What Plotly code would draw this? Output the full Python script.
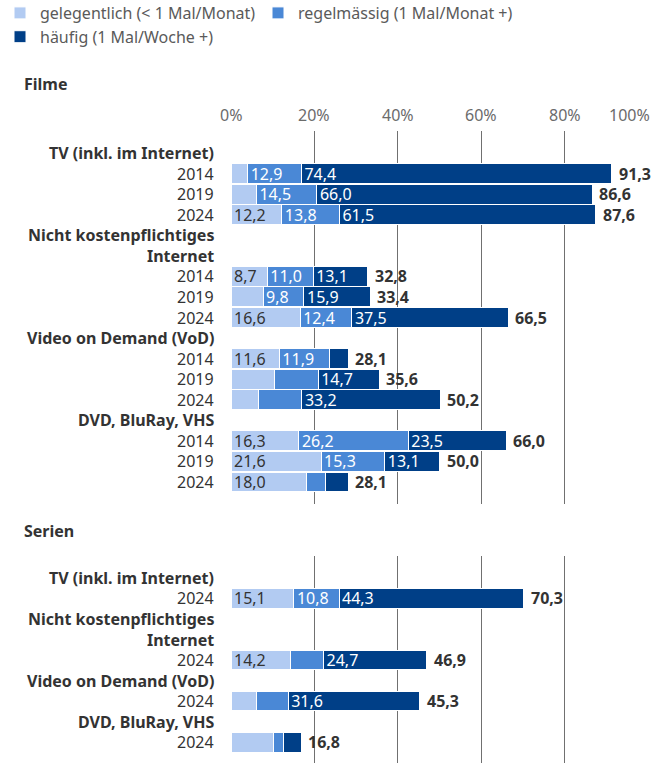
import plotly.graph_objects as go

# ---------------- data ----------------
series_names = ["gelegentlich (< 1 Mal/Monat)", "regelmässig (1 Mal/Monat +)", "häufig (1 Mal/Woche +)"]
colors = ["#b2cbf2", "#4a88d6", "#003f87"]
text_colors = ["#333333", "#ffffff", "#ffffff"]

# Filme: row labels (headers bold) and year rows
filme_rows = ["TV (inkl. im Internet)", "2014", "2019", "2024",
              "Nicht kostenpflichtiges", "Internet", "2014", "2019", "2024",
              "Video on Demand (VoD)", "2014", "2019", "2024",
              "DVD, BluRay, VHS", "2014", "2019", "2024"]
filme_header = [True, False, False, False, True, True, False, False, False,
                True, False, False, False, True, False, False, False]
filme_bar_rows = [1, 2, 3, 6, 7, 8, 10, 11, 12, 14, 15, 16]
filme_gelegentlich = [4.0, 6.1, 12.2, 8.7, 7.7, 16.6, 11.6, 10.5, 6.7, 16.3, 21.6, 18.0]
filme_regelmaessig = [12.9, 14.5, 13.8, 11.0, 9.8, 12.4, 11.9, 10.4, 10.3, 26.2, 15.3, 4.7]
filme_haeufig = [74.4, 66.0, 61.5, 13.1, 15.9, 37.5, 4.6, 14.7, 33.2, 23.5, 13.1, 5.4]
filme_total = [91.3, 86.6, 87.6, 32.8, 33.4, 66.5, 28.1, 35.6, 50.2, 66.0, 50.0, 28.1]
filme_show_g = [False, False, True, True, False, True, True, False, False, True, True, True]
filme_show_r = [True, True, True, True, True, True, True, False, False, True, True, False]
filme_show_h = [True, True, True, True, True, True, False, True, True, True, True, False]

# Serien
serien_rows = ["TV (inkl. im Internet)", "2024",
               "Nicht kostenpflichtiges", "Internet", "2024",
               "Video on Demand (VoD)", "2024",
               "DVD, BluRay, VHS", "2024"]
serien_header = [True, False, True, True, False, True, False, True, False]
serien_bar_rows = [1, 4, 6, 8]
serien_gelegentlich = [15.1, 14.2, 6.0, 10.1]
serien_regelmaessig = [10.8, 8.0, 7.7, 2.4]
serien_haeufig = [44.3, 24.7, 31.6, 4.3]
serien_total = [70.3, 46.9, 45.3, 16.8]
serien_show_g = [True, True, False, False]
serien_show_r = [True, False, False, False]
serien_show_h = [True, True, True, False]

tick_vals = [0, 20, 40, 60, 80, 100]
tick_text = ["0%", "20%", "40%", "60%", "80%", "100%"]

# ---------------- layout geometry ----------------
W, H = 656, 763
FONT = "Noto Sans"
FS = 16
x_dom = [231 / W, 648 / W]
filme_dom = [(H - 504) / H, (H - 131) / H]
serien_dom = [0, (H - 556) / H]


def fmt(v):
    return f"{v:.1f}".replace(".", ",")


fig = go.Figure()

panels = [
    ("x", "y", filme_bar_rows, [filme_gelegentlich, filme_regelmaessig, filme_haeufig],
     [filme_show_g, filme_show_r, filme_show_h], True),
    ("x2", "y2", serien_bar_rows, [serien_gelegentlich, serien_regelmaessig, serien_haeufig],
     [serien_show_g, serien_show_r, serien_show_h], False),
]

for xa, ya, rows, vals, shows, legend in panels:
    for i in range(3):
        texts = [fmt(v) if s else "" for v, s in zip(vals[i], shows[i])]
        fig.add_trace(go.Bar(
            x=vals[i], y=rows, orientation="h",
            xaxis=xa, yaxis=ya,
            name=series_names[i], showlegend=legend, legendrank=i,
            marker=dict(color=colors[i], line=dict(color="white", width=1)),
            width=0.97,
            text=texts, textposition="inside", insidetextanchor="start",
            textangle=0, constraintext="none",
            insidetextfont=dict(family=FONT, size=FS, color=text_colors[i]),
            hoverinfo="skip",
        ))

annotations = []
# totals
for rows, totals, ya in [(filme_bar_rows, filme_total, "y"), (serien_bar_rows, serien_total, "y2")]:
    xa = "x" if ya == "y" else "x2"
    for r, t in zip(rows, totals):
        annotations.append(dict(x=t, y=r, xref=xa, yref=ya, text=f"<b>{fmt(t)}</b>",
                                showarrow=False, xanchor="left", yanchor="middle", xshift=5,
                                font=dict(family=FONT, size=FS, color="#333333")))
# row labels
for labels, headers, ya in [(filme_rows, filme_header, "y"), (serien_rows, serien_header, "y2")]:
    for r, (lab, hd) in enumerate(zip(labels, headers)):
        annotations.append(dict(x=216 / W, y=r, xref="paper", yref=ya,
                                text=f"<b>{lab}</b>" if hd else lab,
                                showarrow=False, xanchor="right", yanchor="middle",
                                font=dict(family=FONT, size=FS, color="#333333")))
# top tick labels
for v, t in zip(tick_vals, tick_text):
    annotations.append(dict(x=v, y=(H - 115) / H, xref="x", yref="paper", text=t,
                            showarrow=False, xanchor="center", yanchor="middle",
                            xshift=-19 if v == 100 else 0,
                            font=dict(family=FONT, size=FS, color="#6b6b6b")))
# panel titles
for title, ypix in [("Filme", 84), ("Serien", 531)]:
    annotations.append(dict(x=22 / W, y=(H - ypix) / H, xref="paper", yref="paper",
                            text=f"<b>{title}</b>", showarrow=False,
                            xanchor="left", yanchor="middle",
                            font=dict(family=FONT, size=FS, color="#333333")))

axis_common = dict(range=[0, 100], domain=x_dom, tickvals=tick_vals, showticklabels=False,
                   showgrid=True, gridcolor="#707070", gridwidth=1, zeroline=False,
                   showline=False, fixedrange=True)

fig.update_layout(
    width=W, height=H,
    margin=dict(l=0, r=0, t=0, b=0, autoexpand=False),
    paper_bgcolor="white", plot_bgcolor="white",
    barmode="stack",
    font=dict(family=FONT, size=FS, color="#333333"),
    xaxis=dict(**axis_common, anchor="y"),
    xaxis2=dict(**axis_common, anchor="y2"),
    yaxis=dict(domain=filme_dom, range=[17.07, -1.07], showticklabels=False,
               showgrid=False, zeroline=False, fixedrange=True),
    yaxis2=dict(domain=serien_dom, range=[9.02, -1.07], showticklabels=False,
                showgrid=False, zeroline=False, fixedrange=True),
    legend=dict(orientation="h", x=0, y=1 + 4 / H, xanchor="left", yanchor="top",
                entrywidth=213, entrywidthmode="pixels", traceorder="normal",
                font=dict(family=FONT, size=FS, color="#5a5a5a"),
                itemclick=False, itemdoubleclick=False),
    annotations=annotations,
    showlegend=True,
)

fig.write_html("out.html", config={"displayModeBar": False},
               post_script="document.body.style.margin='0px';")
